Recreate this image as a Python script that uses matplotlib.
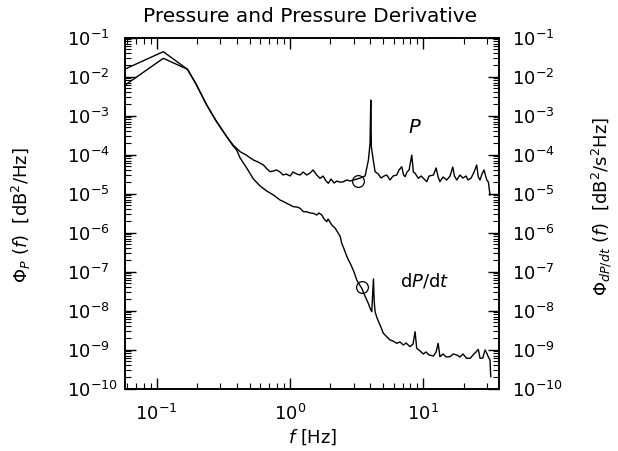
import matplotlib
matplotlib.use("Agg")
import matplotlib.pyplot as plt
from matplotlib.ticker import LogLocator, NullFormatter

# ---- data ----
f_p = [0.058, 0.112, 0.170, 0.197, 0.237, 0.279, 0.335, 0.374, 0.422, 0.468,
       0.531, 0.575, 0.631, 0.672, 0.708, 0.750, 0.794, 0.841, 0.886, 0.933,
       1.0, 1.053, 1.122, 1.189, 1.252, 1.334, 1.413, 1.488, 1.585, 1.679,
       1.768, 1.862, 1.937, 2.03, 2.138, 2.252, 2.371, 2.512, 2.677, 2.818,
       2.985, 3.18, 3.35, 3.548, 3.652, 3.87, 3.981, 4.03, 4.07, 4.17,
       4.34, 4.59, 4.81, 5.07, 5.31, 5.62, 5.92, 6.31, 6.57, 6.88,
       7.10, 7.29, 7.54, 7.81, 8.18, 8.41, 8.66, 9.17, 9.61, 10.0,
       10.6, 11.03, 11.9, 12.45, 12.9, 13.3, 14.05, 14.96, 15.85, 16.6,
       17.1, 17.8, 18.8, 19.8, 20.9, 21.6, 22.8, 24.0, 25.1, 25.8,
       26.6, 27.5, 28.5, 29.3, 29.9, 30.7, 31.6]
psd_p = [1.56e-2, 4.33e-2, 1.53e-2, 6.43e-3, 1.86e-3, 7.23e-4, 2.86e-4, 1.75e-4, 1.18e-4, 9.7e-5,
         7.23e-5, 6.43e-5, 5.38e-5, 4.25e-5, 3.62e-5, 3.78e-5, 4.01e-5, 3.56e-5, 2.98e-5, 3.16e-5,
         2.81e-5, 3.56e-5, 3.16e-5, 2.98e-5, 3.56e-5, 2.98e-5, 3.36e-5, 4.01e-5, 2.98e-5, 2.45e-5,
         2.81e-5, 2.09e-5, 1.83e-5, 2.35e-5, 1.86e-5, 2.09e-5, 1.94e-5, 2.01e-5, 2.22e-5, 2.09e-5,
         2.22e-5, 2.35e-5, 2.49e-5, 2.70e-5, 2.81e-5, 7.23e-5, 1.97e-4, 2.49e-3, 1.58e-4, 8.79e-5,
         3.62e-5, 3.16e-5, 2.49e-5, 2.81e-5, 2.98e-5, 2.22e-5, 2.81e-5, 2.98e-5, 4.01e-5, 4.86e-5,
         2.98e-5, 2.70e-5, 3.56e-5, 4.01e-5, 9.7e-5, 3.56e-5, 3.30e-5, 2.45e-5, 2.81e-5, 2.45e-5,
         2.01e-5, 2.81e-5, 2.98e-5, 4.51e-5, 2.65e-5, 2.01e-5, 2.65e-5, 2.22e-5, 2.81e-5, 4.78e-5,
         2.81e-5, 2.22e-5, 2.98e-5, 2.49e-5, 2.81e-5, 2.22e-5, 2.49e-5, 3.56e-5, 5.38e-5, 2.65e-5,
         2.22e-5, 3.16e-5, 4.01e-5, 2.81e-5, 2.22e-5, 1.97e-5, 9.16e-6]

f_d = [0.058, 0.112, 0.170, 0.197, 0.237, 0.279, 0.335, 0.374, 0.398, 0.422,
       0.473, 0.531, 0.596, 0.668, 0.750, 0.841, 0.944, 1.0, 1.059, 1.128,
       1.189, 1.259, 1.334, 1.413, 1.496, 1.585, 1.650, 1.729, 1.799, 1.884,
       1.928, 2.054, 2.176, 2.30, 2.371, 2.44, 2.54, 2.66, 2.74, 2.818,
       2.90, 3.02, 3.162, 3.29, 3.45, 3.59, 3.76, 3.88, 3.981, 4.10,
       4.22, 4.27, 4.34, 4.49, 4.73, 5.01, 5.31, 5.62, 5.92, 6.31,
       6.68, 7.08, 7.41, 7.94, 8.36, 8.66, 8.91, 9.44, 10.0, 10.47,
       11.03, 11.9, 12.45, 12.9, 13.3, 14.05, 14.8, 15.85, 16.7, 17.8,
       18.8, 19.8, 21.1, 22.4, 23.6, 24.8, 25.8, 26.6, 27.9, 29.0,
       29.9, 30.7, 31.6, 32.0]
psd_d = [6.05e-3, 2.93e-2, 1.53e-2, 6.43e-3, 1.86e-3, 7.23e-4, 2.86e-4, 1.65e-4, 1.30e-4, 8.13e-5,
         4.51e-5, 2.35e-5, 1.56e-5, 1.16e-5, 9.16e-6, 6.81e-6, 5.61e-6, 5.07e-6, 4.59e-6, 4.51e-6,
         4.18e-6, 3.41e-6, 3.41e-6, 3.16e-6, 3.10e-6, 2.81e-6, 3.16e-6, 2.81e-6, 2.22e-6, 1.89e-6,
         2.22e-6, 1.56e-6, 1.30e-6, 9.53e-7, 8.13e-7, 5.28e-7, 3.78e-7, 2.49e-7, 1.97e-7, 1.65e-7,
         1.33e-7, 9.7e-8, 6.05e-8, 4.78e-8, 3.71e-8, 2.65e-8, 1.86e-8, 1.47e-8, 1.14e-8, 9.31e-9,
         6.43e-8, 1.86e-8, 9.31e-9, 6.43e-9, 4.25e-9, 2.60e-9, 2.13e-9, 1.75e-9, 1.65e-9, 1.44e-9,
         1.56e-9, 1.30e-9, 1.47e-9, 1.18e-9, 1.38e-9, 2.86e-9, 1.07e-9, 9.16e-10, 7.67e-10, 8.63e-10,
         7.23e-10, 6.81e-10, 8.63e-10, 1.44e-9, 6.53e-10, 7.67e-10, 6.43e-10, 6.53e-10, 7.67e-10, 7.23e-10,
         6.43e-10, 7.67e-10, 5.94e-10, 5.94e-10, 7.23e-10, 8.63e-10, 1.01e-9, 5.94e-10, 6.05e-10, 9.7e-10,
         8.0e-10, 6.43e-10, 5.38e-10, 2.01e-10]

circle_f = [3.25, 3.45]
circle_v = [2.05e-5, 3.9e-8]

yticks = [1e-10, 1e-9, 1e-8, 1e-7, 1e-6, 1e-5, 1e-4, 1e-3, 1e-2, 1e-1]
xticks = [0.1, 1.0, 10.0]

# ---- figure ----
W, H = 618, 451
fig = plt.figure(figsize=(W / 100, H / 100), dpi=100)
L, R, T, B = 125, 499, 37.5, 388.5
ax = fig.add_axes([L / W, 1 - B / H, (R - L) / W, (B - T) / H])

ax.plot(f_p, psd_p, color="black", lw=1.0)
ax.plot(f_d, psd_d, color="black", lw=1.0)
ax.plot(circle_f, circle_v, linestyle="none", marker="o", mfc="none",
        mec="black", ms=8.5, mew=0.9)

ax.set_xscale("log")
ax.set_yscale("log")
ax.set_xlim(0.0578, 36.9)
ax.set_ylim(1e-10, 1e-1)
ax.set_xticks(xticks)
ax.set_yticks(yticks)
ax.xaxis.set_minor_locator(LogLocator(base=10, subs=range(2, 10), numticks=20))
ax.yaxis.set_minor_locator(LogLocator(base=10, subs=range(2, 10), numticks=20))
ax.xaxis.set_minor_formatter(NullFormatter())
ax.yaxis.set_minor_formatter(NullFormatter())

for s in ax.spines.values():
    s.set_linewidth(1.2)

ax.tick_params(axis="x", which="both", direction="in", top=True, bottom=True,
               labelsize=13, pad=11)
ax.tick_params(axis="x", which="major", length=8, width=1.0)
ax.tick_params(axis="x", which="minor", length=4, width=0.8)
ax.tick_params(axis="y", which="both", direction="in", left=True, right=False,
               labelsize=13, pad=42)
ax.tick_params(axis="y", which="major", length=8, width=1.0)
ax.tick_params(axis="y", which="minor", length=4, width=0.8)
for lbl in ax.get_yticklabels():
    lbl.set_horizontalalignment("left")

ax2 = ax.twinx()
ax2.set_yscale("log")
ax2.set_ylim(1e-10, 1e-1)
ax2.set_yticks(yticks)
ax2.yaxis.set_minor_locator(LogLocator(base=10, subs=range(2, 10), numticks=20))
ax2.yaxis.set_minor_formatter(NullFormatter())
ax2.tick_params(axis="y", which="both", direction="in", labelsize=13, pad=9.5)
ax2.tick_params(axis="y", which="major", length=8, width=1.0)
ax2.tick_params(axis="y", which="minor", length=4, width=0.8)
for s in ax2.spines.values():
    s.set_linewidth(1.2)

# annotations
ax.text(8.66, 4.8e-4, r"$P$", fontsize=14, ha="center", va="center")
ax.text(10.3, 5.7e-8, r"d$P$/d$t$", fontsize=13, ha="center", va="center")

fig.text(310 / W, 1 - 16 / H, "Pressure and Pressure Derivative",
         fontsize=14.5, ha="center", va="center")
fig.text(313 / W, 1 - 437 / H, r"$f$ [Hz]", fontsize=13, ha="center", va="center")
fig.text(21 / W, 1 - 215 / H, r"$\Phi_P$ $(f)$  [dB$^2$/Hz]", fontsize=13,
         rotation=90, ha="center", va="center")
fig.text(602 / W, 1 - 206 / H, r"$\Phi_{dP/dt}$ $(f)$  [dB$^2$/s$^2$Hz]", fontsize=13,
         rotation=90, ha="center", va="center")

fig.savefig("out.png", dpi=100)
